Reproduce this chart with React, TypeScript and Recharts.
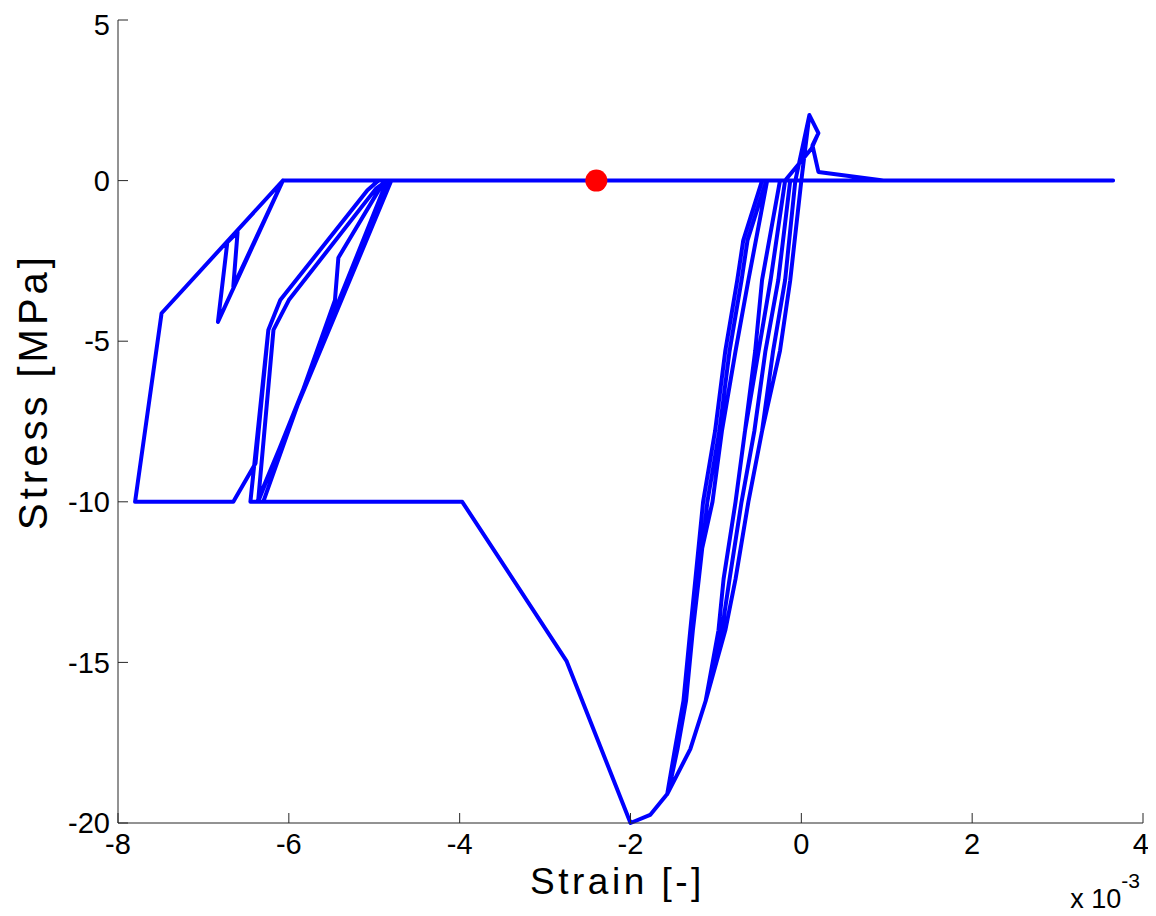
import { ComposedChart, Label, Line, Scatter, XAxis, YAxis } from 'recharts'

// strain in units of 1e-3 [-], stress in MPa, in the order the path is drawn
const strain = [
  0, -0.13, -0.25, -0.46, -0.62, -0.77, -0.89, -1.12, -1.3, -1.57,
  -1.48, -1.38, -1.3, -1.24, -1.15, -1.01, -0.89, -0.75, -0.68, -0.46,
  -0.07, 0.094, 0.2, 0.12, -0.19, -0.36, -0.5, -0.66, -0.54, -0.46, -0.25,
  -0.46, -0.54, -0.66, -0.77, -0.91, -0.97, -1.12, -1.3, -1.57,
  -1.48, -1.38, -1.3, -1.24, -1.04, -0.93, -0.77, -0.62, -0.4,
  -0.41, -0.63, -0.7, -0.84, -0.96, -1.1, -1.2, -1.27, -1.35, -1.45, -1.55,
  -1.57, -1.3, -1.12, -0.93, -0.84, -0.7, -0.55, -0.42, -0.27, -0.13,
  -0.07, -0.19, -0.33, -0.46, -0.62, -0.77, -0.89, -1.12, -1.3, -1.57,
  -1.77, -2.0, -2.75, -3.97, -6.37,
  -4.8, -4.88, -5.42, -5.46, -6.3, -6.45, -6.24, -6.1, -5.08, -4.95,
  -4.85, -4.98, -6.0, -6.18, -6.36, -4.85, -6.07,
  -6.83, -6.72, -6.6, -6.65, -6.07, -7.49, -7.8, -6.65, -6.39,
  -6.24, -6.1, -5.08, -4.95,
  0.0, 0.094, 0.2, 0.13, 0.2, 0.96, 3.65, -2.4,
]
const stress = [
  0, -3.1, -5.3, -7.8, -10, -12.4, -14, -16.2, -17.7, -19.1,
  -17.7, -16.2, -14, -12.4, -10, -7.8, -5.3, -3.1, -1.86, 0,
  0, 2.04, 1.48, 1.0, 0, -3.1, -5.3, -7.8, -5.3, -3.1, 0,
  -3.1, -5.3, -7.8, -10, -12.4, -14, -16.2, -17.7, -19.1,
  -17.7, -16.2, -14, -12.4, -10, -7.8, -5.3, -3.1, 0,
  0, -1.86, -3.1, -5.3, -7.8, -10, -12.4, -14, -16.2, -17.7, -18.95,
  -19.1, -17.7, -16.2, -14, -12.4, -10, -7.8, -5.3, -3.1, 0,
  0, -3.1, -5.3, -7.8, -10, -12.4, -14, -16.2, -17.7, -19.1,
  -19.75, -20, -14.95, -10, -10,
  0, 0, -2.4, -3.72, -10, -10, -4.65, -3.72, -0.3, 0,
  0, -0.25, -3.72, -4.65, -10, 0, 0,
  -4.4, -1.92, -1.6, -3.3, 0, -4.13, -10, -10, -8.8,
  -4.65, -3.72, -0.3, 0,
  0, 2.04, 1.48, 1.1, 0.27, 0, 0, 0,
]

const markerStrain = [-2.4]
const markerStress = [0]

const xTicks = [-8, -6, -4, -2, 0, 2, 4]
const yTicks = [-20, -15, -10, -5, 0, 5]

const pathData = strain.map((s, i) => ({ strain: s, stress: stress[i] }))
const markerData = markerStrain.map((s, i) => ({ strain: s, stress: markerStress[i] }))

const font = '"Liberation Sans", Arial, Helvetica, sans-serif'
const axisColor = '#262626'

export default function App() {
  return (
    <ComposedChart
      width={1140}
      height={905}
      margin={{ top: 12, right: 5, left: 0, bottom: 0 }}
      style={{ fontFamily: font }}
    >
      <XAxis
        type="number"
        dataKey="strain"
        domain={[-8, 4]}
        ticks={xTicks}
        height={90}
        tickSize={-10}
        tickMargin={20}
        axisLine={{ stroke: axisColor }}
        tickLine={{ stroke: axisColor }}
        tick={{ fill: '#000', fontSize: 29, fontFamily: font }}
      >
        <Label
          content={({ viewBox }: any) => {
            const { x, y, width } = viewBox
            return (
              <g fontFamily={font} fill="#000">
                <text
                  x={x + width / 2 - 13}
                  y={y + 71}
                  textAnchor="middle"
                  fontSize={37}
                  letterSpacing={3.5}
                >
                  Strain [-]
                </text>
                <text x={x + width - 3} y={y + 85} textAnchor="end" fontSize={27}>
                  x 10
                  <tspan dy={-20} fontSize={21}>-3</tspan>
                </text>
              </g>
            )
          }}
        />
      </XAxis>
      <YAxis
        type="number"
        dataKey="stress"
        domain={[-20, 5]}
        ticks={yTicks}
        width={110}
        tickSize={-10}
        tickMargin={18}
        axisLine={{ stroke: axisColor }}
        tickLine={{ stroke: axisColor }}
        tick={{ fill: '#000', fontSize: 29, fontFamily: font }}
      >
        <Label
          content={({ viewBox }: any) => {
            const { y, height } = viewBox
            const cy = y + height / 2 - 30
            return (
              <text
                x={39}
                y={cy}
                transform={`rotate(-90, 39, ${cy})`}
                textAnchor="middle"
                fontSize={40}
                letterSpacing={4}
                fontFamily={font}
                fill="#000"
              >
                Stress [MPa]
              </text>
            )
          }}
        />
      </YAxis>
      <Line
        data={pathData}
        dataKey="stress"
        type="linear"
        stroke="#0000ff"
        strokeWidth={4}
        strokeLinejoin="round"
        dot={false}
        activeDot={false}
        isAnimationActive={false}
      />
      <Scatter
        data={markerData}
        dataKey="stress"
        fill="#ff0000"
        isAnimationActive={false}
        shape={(p: any) => <circle cx={p.cx} cy={p.cy} r={11} fill="#ff0000" />}
      />
    </ComposedChart>
  )
}
